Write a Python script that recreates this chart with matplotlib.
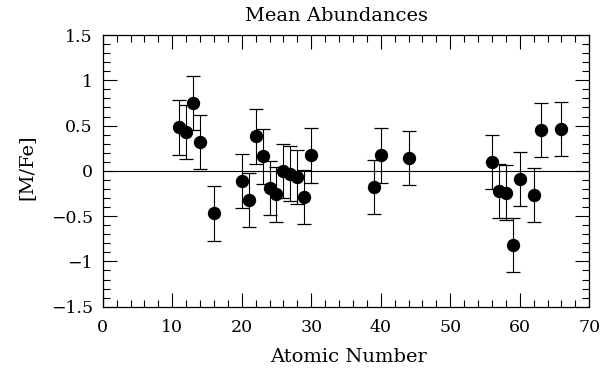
import matplotlib
matplotlib.use("Agg")
import matplotlib.pyplot as plt
from matplotlib.ticker import MultipleLocator, FixedLocator

atomic_number = [11, 12, 13, 14, 16, 20, 21, 22, 23, 24, 25, 26, 27, 28, 29, 30,
                 39, 40, 44, 56, 57, 58, 59, 60, 62, 63, 66]
m_fe = [0.48, 0.43, 0.75, 0.32, -0.47, -0.11, -0.32, 0.38, 0.16, -0.19, -0.26, 0.00,
        -0.03, -0.07, -0.29, 0.17, -0.18, 0.17, 0.14, 0.10, -0.22, -0.24, -0.82,
        -0.09, -0.27, 0.45, 0.46]
err = [0.30] * len(m_fe)

y_ticks = [-1.5, -1.0, -0.5, 0.0, 0.5, 1.0, 1.5]
y_ticklabels = ["\u22121.5", "\u22121", "\u22120.5", "0", "0.5", "1", "1.5"]

plt.rcParams['font.family'] = ['DejaVu Serif']

W, H = 606, 372
fig = plt.figure(figsize=(W / 100, H / 100), dpi=100)
ax = fig.add_axes([102.7 / W, 1 - 306.7 / H, (589.3 - 102.7) / W, (306.7 - 35) / H])

ax.axhline(0, color='black', lw=0.8, zorder=1)
ax.errorbar(atomic_number, m_fe, yerr=err, fmt='o', color='black', ms=8.6,
            ecolor='black', elinewidth=0.8, capsize=4.7, capthick=0.9, zorder=3)

ax.set_xlim(0, 70)
ax.set_ylim(-1.5, 1.5)
ax.xaxis.set_major_locator(MultipleLocator(10))
ax.xaxis.set_minor_locator(MultipleLocator(2))
ax.yaxis.set_major_locator(FixedLocator(y_ticks))
ax.yaxis.set_minor_locator(MultipleLocator(0.1))
ax.set_yticklabels(y_ticklabels)

ax.tick_params(which='both', direction='in', top=True, right=True, width=0.8,
               labelsize=12.5, colors='black')
ax.tick_params(which='major', length=10)
ax.tick_params(axis='x', which='major', pad=9)
ax.tick_params(axis='y', which='major', pad=7)
ax.tick_params(which='minor', length=5)
for s in ax.spines.values():
    s.set_linewidth(0.9)

fig.text(336.5 / W, 1 - 16 / H, "Mean Abundances", fontsize=14, ha='center', va='center')
fig.text(348 / W, 1 - 357 / H, "Atomic Number", fontsize=14, ha='center', va='center')
fig.text(26 / W, 1 - 167 / H, "[M/Fe]", fontsize=14, ha='center', va='center', rotation=90)

fig.savefig("out.png", dpi=100)
